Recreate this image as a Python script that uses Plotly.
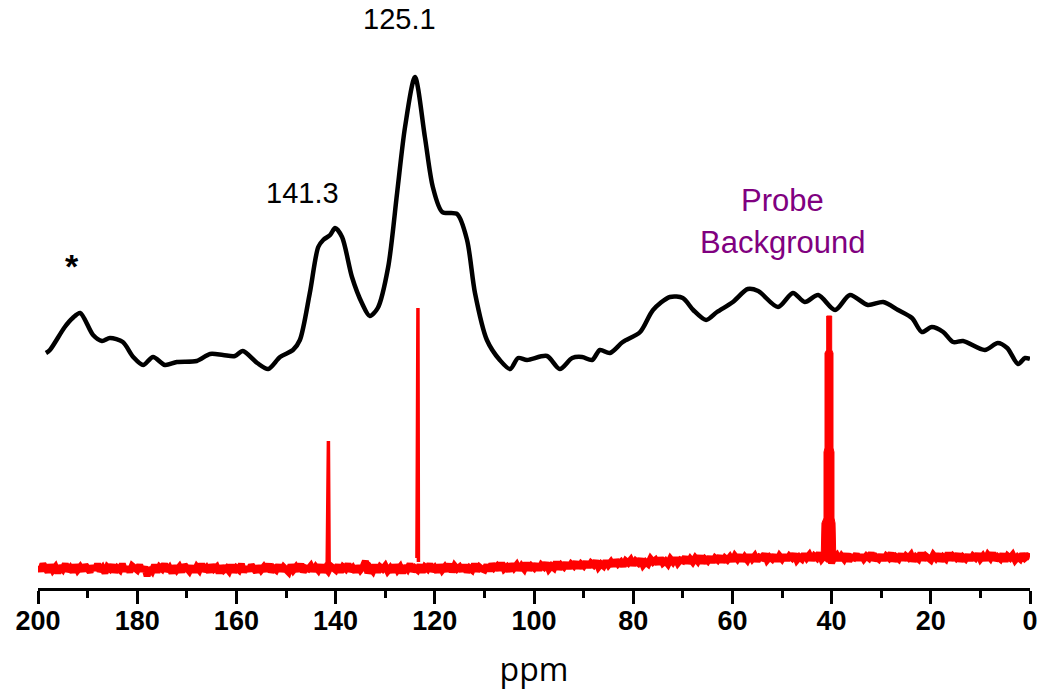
import plotly.graph_objects as go

# ---- black spectrum (ppm, intensity a.u.) ----
black_ppm = [198.4, 197.6, 194.6, 193.0, 191.5, 188.9, 187.1, 185.5, 182.9, 180.8,
             178.8, 176.8, 174.4, 172.0, 168.0, 165.3, 162.7, 160.3, 158.7, 155.8,
             153.6, 151.2, 148.6, 147.2, 145.2, 143.5, 142.5, 141.1, 140.1, 138.7,
             136.7, 134.7, 133.1, 131.5, 129.4, 127.6, 126.0, 124.0, 122.0, 120.4,
             118.5, 115.5, 113.5, 111.9, 109.5, 106.9, 104.8, 103.2, 101.4, 97.4,
             94.8, 92.3, 90.3, 88.3, 86.7, 84.7, 82.1, 78.6, 76.0, 72.6,
             70.0, 67.9, 65.3, 63.1, 59.9, 56.9, 54.8, 50.8, 47.8, 45.4,
             42.7, 39.3, 36.3, 32.7, 29.6, 26.6, 23.8, 21.8, 19.8, 17.5,
             15.5, 13.5, 9.1, 6.5, 4.6, 2.4, 1.0, 0.0]
black_int = [235, 238, 261, 270, 275, 253, 247, 250, 246, 231,
             223, 231, 223, 226, 227, 234, 233, 232, 237, 225,
             219, 231, 238, 248, 295, 341, 348, 353, 360, 351,
             311, 285, 272, 280, 321, 395, 461, 511, 451, 401,
             376, 374, 348, 295, 248, 228, 219, 230, 228, 232,
             219, 230, 231, 228, 238, 235, 246, 256, 278, 291,
             290, 278, 268, 276, 286, 299, 297, 281, 295, 286,
             293, 278, 293, 283, 286, 278, 270, 256, 261, 256,
             246, 247, 238, 245, 240, 224, 230, 229]

# ---- red spectrum baseline, sampled every 0.5 ppm from 200 down to 0 ----
red_base_int = [
    22, 17, 24, 19, 16, 23, 18, 21, 15, 22, 19, 24, 17, 20, 16, 23, 18, 21, 17, 23,  # 200-190.5
    19, 16, 22, 18, 24, 17, 20, 15, 21, 19, 23, 16, 20, 18, 24, 17, 21, 16, 22, 19,  # 190-180.5
    18, 23, 17, 21, 12, 20, 17, 23, 16, 21, 19, 24, 17, 20, 15, 22, 18, 21, 16, 23,  # 180-170.5
    19, 17, 22, 16, 21, 18, 24, 17, 20, 16, 23, 19, 21, 15, 22, 18, 20, 17, 23, 16,  # 170-160.5
    20, 18, 24, 16, 21, 17, 23, 19, 16, 22, 18, 21, 17, 24, 16, 20, 18, 23, 17, 21,  # 160-150.5
    19, 16, 23, 18, 21, 17, 24, 16, 20, 19, 22, 17, 21, 18, 23, 16, 20, 17, 22, 19,  # 150-140.5
    18, 23, 16, 21, 19, 24, 17, 20, 16, 22, 18, 21, 27, 15, 20, 17, 23, 16, 21, 19,  # 140-130.5
    22, 17, 20, 16, 23, 18, 21, 15, 22, 19, 24, 17, 20, 18, 23, 16, 21, 19, 24, 17,  # 130-120.5
    20, 16, 23, 18, 21, 17, 24, 16, 22, 19, 21, 17, 23, 16, 20, 18, 24, 17, 21, 19,  # 120-110.5
    18, 23, 17, 24, 20, 22, 18, 25, 19, 21, 17, 24, 20, 23, 18, 22, 19, 25, 18, 22,  # 110-100.5
    20, 24, 18, 23, 21, 25, 19, 22, 20, 26, 19, 23, 21, 25, 20, 24, 22, 26, 20, 24,  # 100-90.5
    22, 26, 21, 25, 23, 27, 21, 24, 22, 27, 23, 26, 22, 28, 24, 26, 22, 27, 25, 28,  # 90-80.5
    23, 27, 25, 29, 23, 26, 24, 29, 26, 28, 24, 30, 25, 27, 24, 29, 26, 30, 25, 28,  # 80-70.5
    27, 31, 25, 29, 26, 30, 27, 32, 25, 29, 27, 31, 26, 30, 28, 32, 26, 30, 28, 31,  # 70-60.5
    27, 32, 29, 33, 27, 31, 28, 33, 29, 32, 27, 31, 30, 34, 28, 31, 29, 33, 27, 32,  # 60-50.5
    29, 33, 28, 32, 30, 34, 28, 31, 29, 34, 30, 33, 28, 32, 30, 35, 29, 32, 30, 33,  # 50-40.5
    25, 31, 33, 28, 32, 29, 34, 27, 31, 30, 34, 28, 33, 29, 32, 30, 35, 28, 31, 29,  # 40-30.5
    33, 28, 32, 30, 35, 27, 31, 29, 34, 28, 32, 30, 33, 27, 31, 29, 35, 28, 32, 30,  # 30-20.5
    28, 33, 30, 34, 27, 31, 29, 35, 28, 32, 30, 34, 27, 31, 29, 33, 28, 32, 30, 34,  # 20-10.5
    29, 32, 28, 33, 30, 35, 28, 31, 29, 34, 27, 32, 30, 33, 28, 31, 29, 34, 30, 32,  # 10-0.5
    31]                                                                               # 0
red_base_ppm = [200 - 0.5 * i for i in range(len(red_base_int))]

# ---- red spectrum sharp resonances (ppm, intensity) ----
red_peak1_ppm = [141.7, 141.55, 141.45, 141.3]
red_peak1_int = [22, 147, 147, 21]
red_peak2_ppm = [123.6, 123.5, 123.4, 123.3]
red_peak2_int = [30, 280, 280, 26]
# outline of the 40 ppm resonance (left edge up, right edge down)
red_peak3_ppm = [42.1, 41.94, 41.53, 41.53, 41.33, 41.33, 40.99, 40.99,
                 39.98, 39.98, 39.72, 39.72, 39.52, 39.52, 39.31, 39.15]
red_peak3_int = [30, 65, 70, 136, 140, 235, 238, 272,
                 272, 238, 235, 140, 136, 70, 65, 30]

RED = "#FF0000"
FONT = "Liberation Sans, Arial, sans-serif"

fig = go.Figure()
fig.add_trace(go.Scatter(x=red_base_ppm, y=red_base_int, mode="lines",
                         line=dict(color=RED, width=7), showlegend=False))
for px_, py_ in [(red_peak1_ppm, red_peak1_int), (red_peak2_ppm, red_peak2_int)]:
    fig.add_trace(go.Scatter(x=px_, y=py_, mode="lines",
                             line=dict(color=RED, width=3.5), showlegend=False))
fig.add_trace(go.Scatter(x=red_peak3_ppm, y=red_peak3_int, mode="lines",
                         fill="toself", fillcolor=RED,
                         line=dict(color=RED, width=1), showlegend=False))
fig.add_trace(go.Scatter(x=black_ppm, y=black_int, mode="lines",
                         line=dict(color="black", width=4.5, shape="spline", smoothing=0.8),
                         showlegend=False))

ann_font = dict(family=FONT, size=29, color="black")
purple_font = dict(family=FONT, size=31, color="#800080")
fig.add_annotation(x=127.2, y=569, text="125.1", showarrow=False, font=ann_font)
fig.add_annotation(x=146.6, y=395, text="141.3", showarrow=False, font=ann_font)
fig.add_annotation(x=193.1, y=322, text="*", showarrow=False,
                   font=dict(family=FONT, size=34, color="black", weight="bold"))
fig.add_annotation(x=49.8, y=388, text="Probe", showarrow=False, font=purple_font)
fig.add_annotation(x=49.8, y=346, text="Background", showarrow=False, font=purple_font)

fig.update_layout(
    width=1039, height=692,
    margin=dict(l=38, r=9, t=0, b=104),
    paper_bgcolor="white", plot_bgcolor="white",
    xaxis=dict(range=[200, 0], showgrid=False, zeroline=False,
               showline=True, linecolor="black", linewidth=2.5,
               ticks="outside", ticklen=13, tickwidth=2.5, tickcolor="black",
               tick0=0, dtick=20, ticklabelstandoff=-6,
               minor=dict(ticks="outside", ticklen=7, tickwidth=2.5,
                          tickcolor="black", dtick=10, showgrid=False),
               tickfont=dict(family=FONT, size=27, color="black", weight="bold"),
               title=dict(text="ppm", standoff=24,
                          font=dict(family="Open Sans, sans-serif", size=32,
                                    color="black"))),
    yaxis=dict(visible=False, range=[0, 588], fixedrange=True),
)

fig.write_html("out.html")
